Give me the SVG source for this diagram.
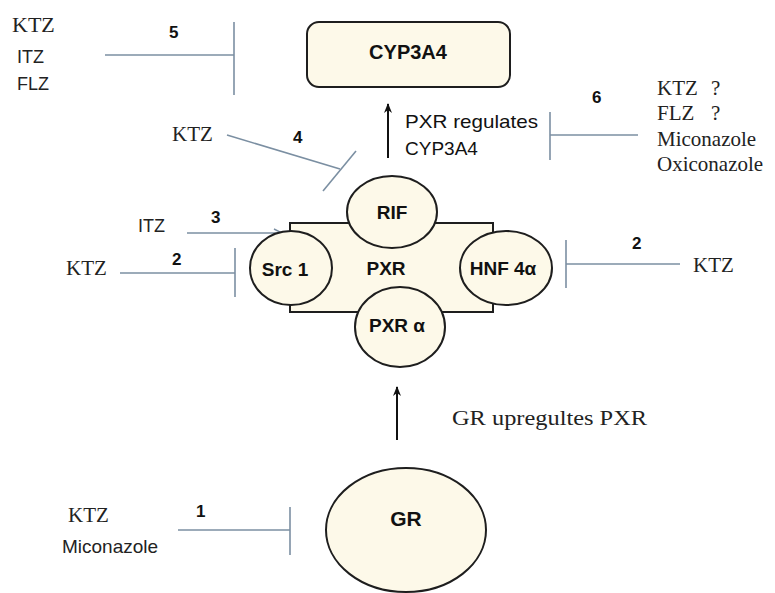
<svg xmlns="http://www.w3.org/2000/svg" width="775" height="593" viewBox="0 0 775 593">
  <defs>
    <marker id="arrowBlack" viewBox="0 0 10 10" refX="9" refY="5" markerWidth="10" markerHeight="10" markerUnits="userSpaceOnUse" orient="auto">
      <path d="M0,1 L10,5 L0,9 L3,5 Z" fill="#111"/>
    </marker>
    <marker id="arrowOpen" viewBox="0 0 10 10" refX="9" refY="5" markerWidth="10" markerHeight="10" markerUnits="userSpaceOnUse" orient="auto">
      <path d="M1,1 L9,5 L1,9" fill="none" stroke="#7b8fa2" stroke-width="1.4"/>
    </marker>
  </defs>
  <style>
    .node { fill: #fdf9e9; stroke: #1e1e1e; stroke-width: 2; }
    .inh { stroke: #7b8fa2; stroke-width: 1.6; fill: none; }
    .act { stroke: #111; stroke-width: 2; fill: none; }
    .lbl { font-family: "Liberation Sans", Arial, sans-serif; font-size: 19px; fill: #111; }
    .lblb { font-family: "Liberation Sans", Arial, sans-serif; font-size: 19px; font-weight: bold; fill: #111; }
    .num { font-family: "Liberation Sans", Arial, sans-serif; font-size: 17px; font-weight: bold; fill: #111; }
    .sans { font-family: "Liberation Sans", Arial, sans-serif; font-size: 18px; fill: #222; }
    .serif { font-family: "Liberation Serif", "Times New Roman", serif; font-size: 21px; fill: #222; }
  </style>
  <rect width="775" height="593" fill="#ffffff"/>

  <!-- connectors -->
  <g id="connectors">
    <!-- 5: KTZ/ITZ/FLZ inhibit CYP3A4 -->
    <line class="inh" x1="105" y1="55" x2="234" y2="55"/>
    <line class="inh" x1="234" y1="22" x2="234" y2="95"/>
    <!-- PXR regulates CYP3A4 -->
    <line class="act" x1="388" y1="158" x2="388" y2="104" marker-end="url(#arrowBlack)"/>
    <!-- 6 -->
    <line class="inh" x1="550" y1="135" x2="638" y2="135"/>
    <line class="inh" x1="550" y1="112" x2="550" y2="160"/>
    <!-- 4 -->
    <line class="inh" x1="227" y1="135" x2="340" y2="169"/>
    <line class="inh" x1="323" y1="191" x2="356" y2="151"/>
    <!-- 3: ITZ activates Src 1 -->
    <line class="inh" x1="187" y1="233" x2="282" y2="233" marker-end="url(#arrowOpen)"/>
    <!-- 2 left -->
    <line class="inh" x1="120" y1="273" x2="235" y2="273"/>
    <line class="inh" x1="235" y1="248" x2="235" y2="297"/>
    <!-- 2 right -->
    <line class="inh" x1="566" y1="264" x2="680" y2="264"/>
    <line class="inh" x1="566" y1="240" x2="566" y2="288"/>
    <!-- GR upregulates PXR -->
    <line class="act" x1="397" y1="440" x2="397" y2="387" marker-end="url(#arrowBlack)"/>
    <!-- 1 -->
    <line class="inh" x1="178" y1="530" x2="290" y2="530"/>
    <line class="inh" x1="290" y1="507" x2="290" y2="555"/>
  </g>

  <!-- connector labels -->
  <g id="labels">
    <text class="num" x="169" y="38">5</text>
    <text class="num" x="592" y="103">6</text>
    <text class="num" x="293" y="143">4</text>
    <text class="num" x="211" y="223">3</text>
    <text class="num" x="172" y="265">2</text>
    <text class="num" x="632" y="249">2</text>
    <text class="num" x="196" y="517">1</text>
    <text class="lbl" x="405" y="128" textLength="133" lengthAdjust="spacingAndGlyphs">PXR regulates</text>
    <text class="lbl" x="405" y="155">CYP3A4</text>
    <text class="serif" x="452" y="425" style="font-size:22px" textLength="195" lengthAdjust="spacingAndGlyphs">GR upregultes  PXR</text>
  </g>

  <!-- drug groups -->
  <g id="drugs-5">
    <text class="serif" x="12" y="32" style="font-size:22px">KTZ</text>
    <text class="sans" x="17" y="63">ITZ</text>
    <text class="sans" x="17" y="90">FLZ</text>
  </g>
  <g id="drugs-6">
    <text class="serif" x="657" y="95">KTZ</text>
    <text class="serif" x="711" y="95">?</text>
    <text class="serif" x="657" y="120">FLZ</text>
    <text class="serif" x="711" y="120">?</text>
    <text class="serif" x="657" y="146">Miconazole</text>
    <text class="serif" x="657" y="171">Oxiconazole</text>
  </g>
  <g id="drugs-4">
    <text class="serif" x="172" y="141">KTZ</text>
  </g>
  <g id="drugs-3">
    <text class="sans" x="138" y="232">ITZ</text>
  </g>
  <g id="drugs-2-left">
    <text class="serif" x="66" y="275">KTZ</text>
  </g>
  <g id="drugs-2-right">
    <text class="serif" x="693" y="272">KTZ</text>
  </g>
  <g id="drugs-1">
    <text class="serif" x="68" y="522">KTZ</text>
    <text class="sans" x="62" y="553" style="font-size:19px">Miconazole</text>
  </g>

  <!-- nodes -->
  <g id="cyp3a4">
    <rect class="node" x="307" y="22" width="203" height="65" rx="12"/>
    <text class="lblb" x="408" y="59" text-anchor="middle" style="font-size:20px">CYP3A4</text>
  </g>
  <g id="pxr">
    <rect class="node" x="290" y="223" width="203" height="89"/>
    <text class="lblb" x="386" y="275" text-anchor="middle">PXR</text>
  </g>
  <g id="rif">
    <ellipse class="node" cx="392" cy="212" rx="45" ry="36"/>
    <text class="lblb" x="392" y="219" text-anchor="middle">RIF</text>
  </g>
  <g id="src1">
    <ellipse class="node" cx="291" cy="268" rx="41" ry="37"/>
    <text class="lblb" x="285" y="276" text-anchor="middle">Src 1</text>
  </g>
  <g id="hnf4a">
    <ellipse class="node" cx="506" cy="268" rx="46" ry="37"/>
    <text class="lblb" x="503" y="275" text-anchor="middle">HNF 4α</text>
  </g>
  <g id="pxra">
    <ellipse class="node" cx="400" cy="327" rx="45" ry="40"/>
    <text class="lblb" x="397" y="332" text-anchor="middle">PXR α</text>
  </g>
  <g id="gr">
    <ellipse class="node" cx="406" cy="530" rx="80" ry="62"/>
    <text class="lblb" x="406" y="526" text-anchor="middle" style="font-size:21px">GR</text>
  </g>
</svg>
